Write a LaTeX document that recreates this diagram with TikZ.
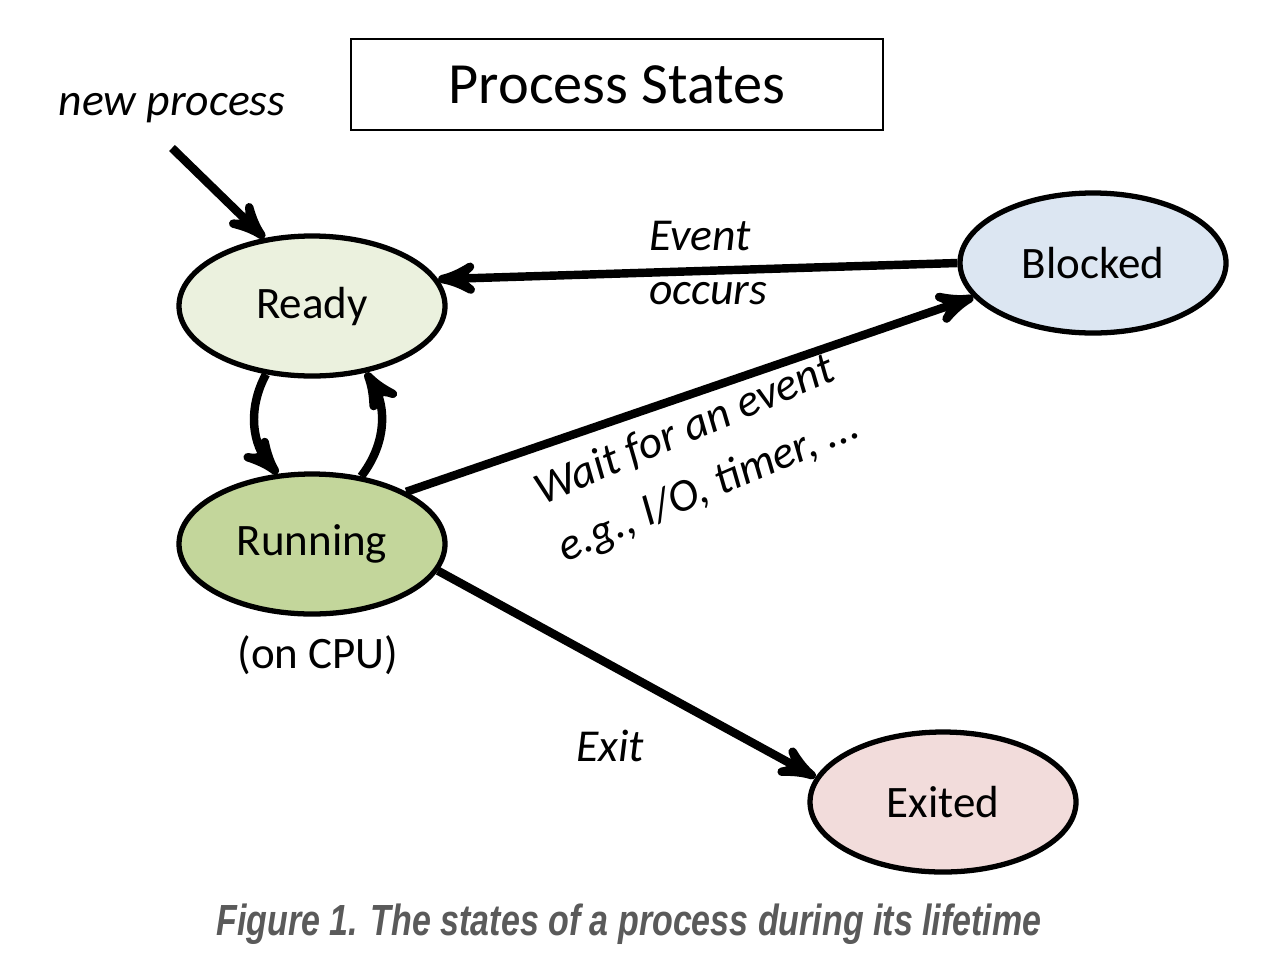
\documentclass[tikz,border=0pt]{standalone}
\usepackage{fontspec}
\setmainfont{Carlito}
\newfontfamily\capfont[FakeStretch=0.78]{Liberation Sans}
\usepackage{tikz}
\usetikzlibrary{arrows,shapes.geometric}
\definecolor{readyfill}{HTML}{EBF1DE}
\definecolor{runfill}{HTML}{C3D69B}
\definecolor{blockfill}{HTML}{DCE6F2}
\definecolor{exitfill}{HTML}{F2DCDB}
\definecolor{capgray}{HTML}{5A5A5A}

\begin{document}
\begin{tikzpicture}[->,>=stealth',semithick,
    procstate/.style={ellipse,draw,line width=1.5pt,minimum width=2.66cm,minimum height=1.4cm,inner sep=0pt,font=\fontsize{12.8}{15}\selectfont},
    trans/.style={line width=2.4pt},
    lbl/.style={font=\fontsize{13}{15}\selectfont\itshape,inner sep=0pt}]
  \useasboundingbox (0,0) rectangle (12.8,-9.7);

  \node [draw,line width=0.8pt,minimum width=5.32cm,minimum height=0.91cm,font=\fontsize{16.6}{20}\selectfont] (T) at (6.17,-0.845) {Process States};

  \node [procstate,fill=readyfill] (R) at (3.12,-3.06) {Ready};
  \node [procstate,fill=runfill] (U) at (3.12,-5.44) {Running};
  \node [procstate,fill=blockfill] (B) at (10.93,-2.63) {Blocked};
  \node [procstate,fill=exitfill] (E) at (9.43,-8.02) {Exited};

  \node [lbl] (N) at (1.72,-1.08) {new process};
  \coordinate (N0) at (1.72,-1.48);
  \node [inner sep=0pt,font=\fontsize{12.8}{15}\selectfont] (C) at (3.18,-6.55) {(on CPU)};

  \path (N0) edge[trans] (R.125);
  \path (R.236) edge[trans,bend right=35] (U.116);
  \path (U.54) edge[trans,bend right=35] (R.309);
  \path (B.west) edge[trans] (R.12);
  \path (U.29) edge[trans] (B.196);
  \path (U.348) edge[trans] (E.169);

  \node [lbl] (L1) at (7.00,-2.36) {Event};
  \node [lbl] (L2) at (7.08,-2.94) {occurs};
  \node [lbl,rotate=23,align=center,font=\fontsize{13}{17.5}\selectfont\itshape] (L3) at (6.97,-4.60) {Wait for an event\\e.g., I/O, timer, ...};
  \node [lbl] (L4) at (6.10,-7.46) {Exit};

  \node [font=\capfont\fontsize{12.4}{15}\selectfont\bfseries\itshape,text=capgray] (F) at (6.29,-9.24) {Figure 1. The states of a process during its lifetime};
\end{tikzpicture}
\end{document}
